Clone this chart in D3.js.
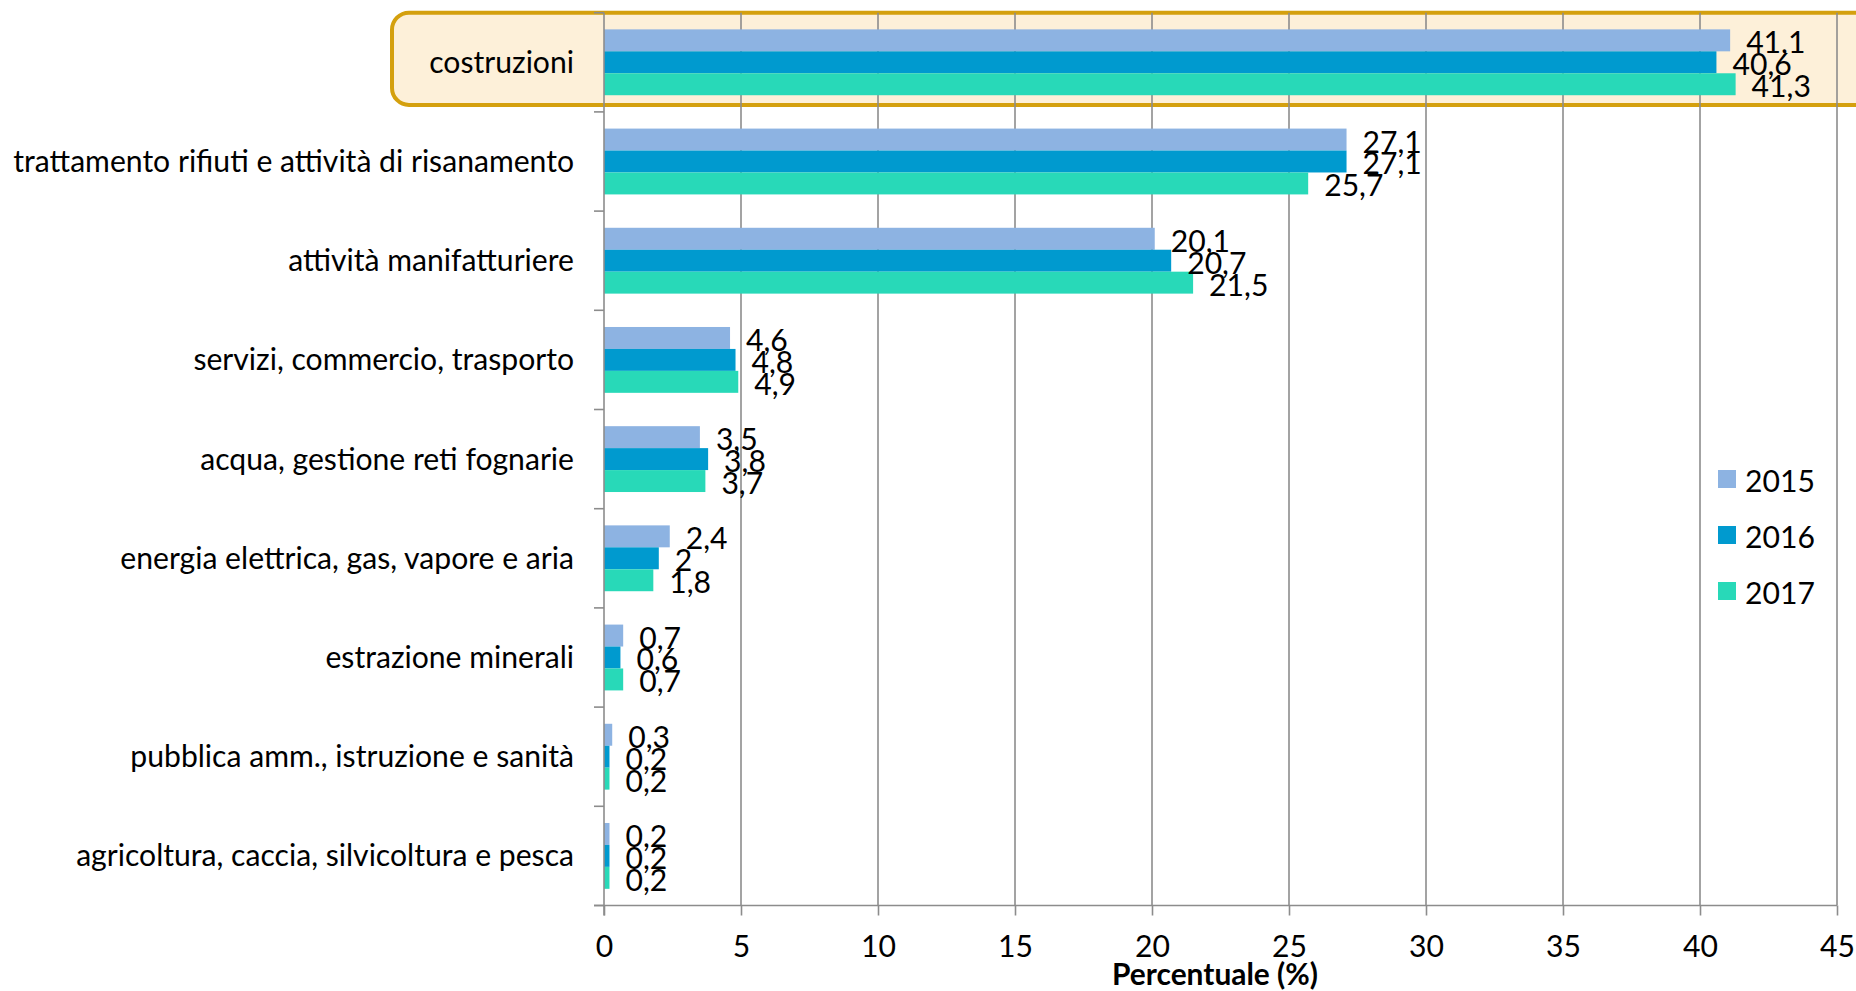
<!DOCTYPE html>
<html>
<head>
<meta charset="utf-8">
<script src="https://cdn.jsdelivr.net/npm/d3@7/dist/d3.min.js"></script>
<style>
  html, body { margin: 0; padding: 0; background: #fff; }
  svg { display: block; }
  text { font-family: Lato, "Noto Sans", sans-serif; fill: #000; }
</style>
</head>
<body>
<svg id="chart" width="1856" height="991"></svg>
<script>
const categories = [
  "costruzioni",
  "trattamento rifiuti e attività di risanamento",
  "attività manifatturiere",
  "servizi, commercio, trasporto",
  "acqua, gestione reti fognarie",
  "energia elettrica, gas, vapore e aria",
  "estrazione minerali",
  "pubblica amm., istruzione e sanità",
  "agricoltura, caccia, silvicoltura e pesca"
];
const years = ["2015", "2016", "2017"];
const values2015 = [41.1, 27.1, 20.1, 4.6, 3.5, 2.4, 0.7, 0.3, 0.2];
const values2016 = [40.6, 27.1, 20.7, 4.8, 3.8, 2, 0.6, 0.2, 0.2];
const values2017 = [41.3, 25.7, 21.5, 4.9, 3.7, 1.8, 0.7, 0.2, 0.2];
const xTicks = [0, 5, 10, 15, 20, 25, 30, 35, 40, 45];
const xTitle = "Percentuale (%)";
const highlighted = "costruzioni";

const seriesValues = [values2015, values2016, values2017];
const colors = ["#8db3e2", "#009acf", "#28d9b8"];

const svg = d3.select("#chart");
const plot = { left: 604, right: 1837, top: 12.7, bottom: 905.5 };

const x = d3.scaleLinear().domain([0, 45]).range([plot.left, plot.right]);
const y = d3.scaleBand().domain(categories).range([plot.top, plot.bottom]).paddingInner(0).paddingOuter(0);
const yInner = d3.scaleBand().domain(years).range([0, y.bandwidth()]).paddingInner(0).paddingOuter(0.76);

const color = d3.scaleOrdinal().domain(years).range(colors);
const fmt = v => String(v).replace(".", ",");

// font fitting so the Lato text width matches the reference's Calibri width
const probe = svg.append("text").attr("font-size", 30).text(categories[1]);
const w = probe.node().getComputedTextLength();
probe.remove();
const fs = 30 * 561 / w;
const probe2 = svg.append("text").attr("font-size", 30).attr("font-weight", "bold").text(xTitle);
const w2 = probe2.node().getComputedTextLength();
probe2.remove();
const fsTitle = 30 * 206 / w2;

// highlight box
const hb = y(highlighted);
svg.append("rect")
  .attr("x", 392).attr("y", hb)
  .attr("width", 1500).attr("height", y.bandwidth() - 7)
  .attr("rx", 17).attr("ry", 17)
  .attr("fill", "#fdf0d9")
  .attr("stroke", "#d4a00e").attr("stroke-width", 4);

// gridlines
svg.append("g").selectAll("line").data(xTicks.filter(d => d > 0)).join("line")
  .attr("x1", d => x(d)).attr("x2", d => x(d))
  .attr("y1", plot.top).attr("y2", plot.bottom)
  .attr("stroke", "#8c8c8c").attr("stroke-width", 1.6);

// bars
const rows = categories.map((c, i) => ({ c, vals: years.map((yr, k) => ({ yr, v: seriesValues[k][i] })) }));
const g = svg.append("g").selectAll("g").data(rows).join("g")
  .attr("transform", d => `translate(0,${y(d.c)})`);
g.selectAll("rect").data(d => d.vals).join("rect")
  .attr("x", x(0))
  .attr("y", d => yInner(d.yr))
  .attr("width", d => x(d.v) - x(0))
  .attr("height", yInner.bandwidth())
  .attr("fill", d => color(d.yr));
g.selectAll("text").data(d => d.vals).join("text")
  .attr("x", d => x(d.v) + 16)
  .attr("y", d => yInner(d.yr) + yInner.bandwidth() / 2 + 1)
  .attr("dominant-baseline", "central")
  .attr("font-size", fs)
  .text(d => fmt(d.v));

// y axis
const yAxis = d3.axisLeft(y).tickSize(0).tickPadding(30);
const ya = svg.append("g").attr("transform", `translate(${plot.left},0)`).call(yAxis);
ya.select(".domain").remove();
ya.selectAll("text").attr("font-size", fs).attr("font-family", "Lato, 'Noto Sans', sans-serif").attr("fill", "#000").attr("dy", "0.35em");
const boundaries = categories.map(c => y(c)).concat([plot.bottom]);
svg.append("g").selectAll("line").data(boundaries).join("line")
  .attr("x1", plot.left - 10).attr("x2", plot.left)
  .attr("y1", d => d).attr("y2", d => d)
  .attr("stroke", "#8c8c8c").attr("stroke-width", 1.6);
svg.append("line")
  .attr("x1", plot.left).attr("x2", plot.left)
  .attr("y1", plot.top).attr("y2", plot.bottom + 10)
  .attr("stroke", "#8c8c8c").attr("stroke-width", 1.6);

// x axis
const xAxis = d3.axisBottom(x).tickValues(xTicks).tickSize(10).tickPadding(20);
const xa = svg.append("g").attr("transform", `translate(0,${plot.bottom})`).call(xAxis);
xa.select(".domain").attr("d", `M${plot.left - 10},0H${plot.right}`).attr("stroke", "#8c8c8c").attr("stroke-width", 1.6);
xa.selectAll(".tick line").attr("stroke", "#8c8c8c").attr("stroke-width", 1.6);
xa.selectAll("text").attr("font-size", fs).attr("font-family", "Lato, 'Noto Sans', sans-serif").attr("fill", "#000");

svg.append("text")
  .attr("x", 1215).attr("y", 973)
  .attr("text-anchor", "middle").attr("dominant-baseline", "central")
  .attr("font-size", fsTitle).attr("font-weight", "bold")
  .text(xTitle);

// legend
const leg = svg.append("g").selectAll("g").data(years).join("g")
  .attr("transform", (d, i) => `translate(1718,${479 + i * 56})`);
leg.append("rect").attr("x", 0).attr("y", -9).attr("width", 18).attr("height", 18).attr("fill", d => color(d));
leg.append("text").attr("x", 27).attr("y", 1).attr("dominant-baseline", "central").attr("font-size", fs).text(d => d);
</script>
</body>
</html>
